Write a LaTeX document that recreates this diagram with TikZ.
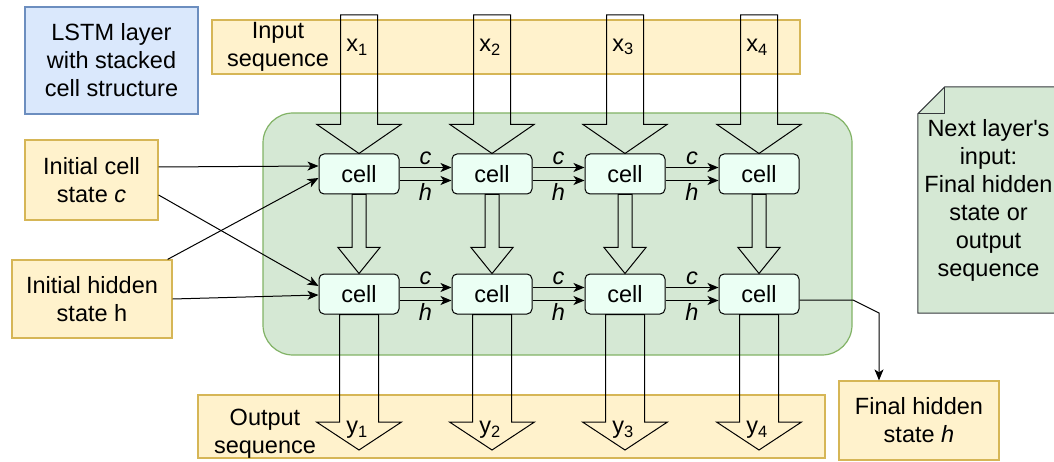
\documentclass[tikz,border=0pt]{standalone}
\usepackage{fontspec}
\setmainfont{Liberation Sans}
\usepackage{tikz}
\usetikzlibrary{arrows.meta,positioning,calc}
\definecolor{NoteYellow}{HTML}{FFF2CC}
\definecolor{NoteYellowLine}{HTML}{D6B656}
\definecolor{NoteBlue}{HTML}{DAE8FC}
\definecolor{NoteBlueLine}{HTML}{6C8EBF}
\definecolor{LayerGreen}{HTML}{D5E8D4}
\definecolor{LayerGreenLine}{HTML}{82B366}
\definecolor{CellMint}{HTML}{EBFFF4}
\definecolor{DocLine}{HTML}{36393D}

% hollow block arrow: start, tip, half shaft width, half head width, head length
\newcommand{\fatarrow}[5]{%
  \draw[fat] let \p1=(#1), \p2=(#2) in
    (\x2-#3pt,\y1) -- (\x2-#3pt,\y2+#5pt) -- (\x2-#4pt,\y2+#5pt) -- (\x2,\y2)
    -- (\x2+#4pt,\y2+#5pt) -- (\x2+#3pt,\y2+#5pt) -- (\x2+#3pt,\y1) -- cycle;}

\begin{document}
\begin{tikzpicture}[x=1pt, y=-1pt,
            txt/.style={align=center, font=\fontsize{23.5}{28}\selectfont, inner sep=0pt},
            note/.style={txt, draw=NoteYellowLine, fill=NoteYellow, line width=1.2pt},
            cell/.style={txt, draw, rounded corners=5pt, fill=CellMint,
                         minimum width=80pt, minimum height=40pt, line width=1pt},
            arr/.style={-{Stealth[length=11pt, width=9pt, inset=3pt]}, line width=1pt},
            fat/.style={line width=1pt},
            lbl/.style={font=\fontsize{23.5}{28}\selectfont\itshape, inner sep=2pt}
        ]
            \clip (0,0) rectangle (1054,462);

            \node[draw=LayerGreenLine, fill=LayerGreen, rounded corners=30pt, line width=1.2pt,
                  minimum width=589pt, minimum height=242pt] (layer) at (557.5,234) {};

            \node[note, draw=NoteBlueLine, fill=NoteBlue, minimum width=173pt, minimum height=107pt]
                (title) at (111.5,60.5) {LSTM layer\\with stacked\\cell structure};
            \node[note, minimum width=133pt, minimum height=80pt] (icell) at (91.5,180) {Initial cell\\state \textit{c}};
            \node[note, minimum width=160pt, minimum height=78pt] (ihid) at (92,299) {Initial hidden\\state h};

            \node[note, minimum width=588pt, minimum height=54pt] (inseq) at (506,47) {};
            \node[txt] (inseqtxt) at (278,47) {Input\\sequence};
            \node[note, minimum width=627pt, minimum height=63pt] (outseq) at (511.5,426.5) {};
            \node[txt] (outseqtxt) at (265,434) {Output\\sequence};
            \node[note, minimum width=160pt, minimum height=79pt] (final) at (919,420.5) {Final hidden\\state \textit{h}};

            % next layer note with folded corner
            \node[minimum width=141pt, minimum height=226pt, inner sep=0pt] (next) at (988.5,200) {};
            \filldraw[fill=LayerGreen, draw=DocLine, line width=1pt]
                ([yshift=-27pt]next.north west) -- ([xshift=27pt]next.north west) -- (next.north east)
                -- (next.south east) -- (next.south west) -- cycle;
            \draw[DocLine, line width=1pt] ([yshift=-27pt]next.north west) -- ([shift={(27pt,-27pt)}]next.north west)
                -- ([xshift=27pt]next.north west);
            \node[txt] (nexttxt) at (next) {Next layer\textquotesingle s\\input:\\Final hidden\\state or\\output\\sequence};

            \node[cell] (c11) at (359,174) {cell};
            \node[cell] (c12) at (492,174) {cell};
            \node[cell] (c13) at (625,174) {cell};
            \node[cell] (c14) at (759,174) {cell};
            \node[cell] (c21) at (359,294) {cell};
            \node[cell] (c22) at (492,294) {cell};
            \node[cell] (c23) at (625,294) {cell};
            \node[cell] (c24) at (759,294) {cell};

            \coordinate (in1) at (359,15);
            \coordinate (in2) at (492,15);
            \coordinate (in3) at (625,15);
            \coordinate (in4) at (759,15);
            \coordinate (out1) at (359,450);
            \coordinate (out2) at (492,450);
            \coordinate (out3) at (625,450);
            \coordinate (out4) at (759,450);

            \fatarrow{in1}{c11.north}{18.5}{42}{29}
            \fatarrow{in2}{c12.north}{18.5}{42}{29}
            \fatarrow{in3}{c13.north}{18.5}{42}{29}
            \fatarrow{in4}{c14.north}{18.5}{42}{29}

            \fatarrow{c11.south}{c21.north}{7}{21}{26}
            \fatarrow{c12.south}{c22.north}{7}{21}{26}
            \fatarrow{c13.south}{c23.north}{7}{21}{26}
            \fatarrow{c14.south}{c24.north}{7}{21}{26}

            \fatarrow{c21.south}{out1}{19.5}{42.5}{28}
            \fatarrow{c22.south}{out2}{19.5}{42.5}{28}
            \fatarrow{c23.south}{out3}{19.5}{42.5}{28}
            \fatarrow{c24.south}{out4}{19.5}{42.5}{28}

            \node[txt] (x1) at (357,47) {x\textsubscript{1}};
            \node[txt] (x2) at (490,47) {x\textsubscript{2}};
            \node[txt] (x3) at (623,47) {x\textsubscript{3}};
            \node[txt] (x4) at (757,47) {x\textsubscript{4}};
            \node[txt] (y1) at (357,430) {y\textsubscript{1}};
            \node[txt] (y2) at (490,430) {y\textsubscript{2}};
            \node[txt] (y3) at (623,430) {y\textsubscript{3}};
            \node[txt] (y4) at (757,430) {y\textsubscript{4}};

            % c and h passed along each row
            \draw[arr] ([yshift=6.5pt]c11.east) -- node[lbl, above] {c} ([yshift=6.5pt]c12.west);
            \draw[arr] ([yshift=-6.5pt]c11.east) -- node[lbl, below] {h} ([yshift=-6.5pt]c12.west);
            \draw[arr] ([yshift=6.5pt]c12.east) -- node[lbl, above] {c} ([yshift=6.5pt]c13.west);
            \draw[arr] ([yshift=-6.5pt]c12.east) -- node[lbl, below] {h} ([yshift=-6.5pt]c13.west);
            \draw[arr] ([yshift=6.5pt]c13.east) -- node[lbl, above] {c} ([yshift=6.5pt]c14.west);
            \draw[arr] ([yshift=-6.5pt]c13.east) -- node[lbl, below] {h} ([yshift=-6.5pt]c14.west);

            \draw[arr] ([yshift=6.5pt]c21.east) -- node[lbl, above] {c} ([yshift=6.5pt]c22.west);
            \draw[arr] ([yshift=-6.5pt]c21.east) -- node[lbl, below] {h} ([yshift=-6.5pt]c22.west);
            \draw[arr] ([yshift=6.5pt]c22.east) -- node[lbl, above] {c} ([yshift=6.5pt]c23.west);
            \draw[arr] ([yshift=-6.5pt]c22.east) -- node[lbl, below] {h} ([yshift=-6.5pt]c23.west);
            \draw[arr] ([yshift=6.5pt]c23.east) -- node[lbl, above] {c} ([yshift=6.5pt]c24.west);
            \draw[arr] ([yshift=-6.5pt]c23.east) -- node[lbl, below] {h} ([yshift=-6.5pt]c24.west);

            % initial states into the first column
            \draw[arr] ([yshift=13pt]icell.east) -- ([yshift=8pt]c11.west);
            \draw[arr] ([yshift=-15pt]icell.east) -- ([yshift=8pt]c21.west);
            \draw[arr] ([xshift=-5pt]ihid.north east) -- ([yshift=-4pt]c11.west);
            \draw[arr] (ihid.east) -- ([yshift=-1pt]c21.west);

            % last hidden state out of the layer
            \coordinate (knee) at (853,300);
            \coordinate (bend) at (879,313);
            \draw[arr] ([yshift=-6pt]c24.east) -- (knee) -- (bend) -- (bend |- final.north);

        \end{tikzpicture}
\end{document}
